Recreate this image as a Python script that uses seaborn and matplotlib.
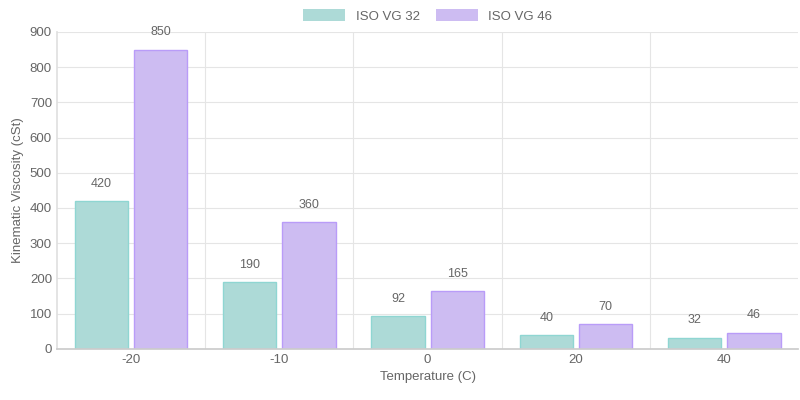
import matplotlib
matplotlib.use("Agg")
import matplotlib.pyplot as plt
import seaborn as sns
import pandas as pd

temps = ["-20", "-10", "0", "20", "40"]
vg32 = [420, 190, 92, 40, 32]
vg46 = [850, 360, 165, 70, 46]
series = ["ISO VG 32", "ISO VG 46"]

df = pd.DataFrame({
    "Temperature": temps * 2,
    "Viscosity": vg32 + vg46,
    "Grade": [series[0]] * 5 + [series[1]] * 5,
})

sns.set_theme(style="white")
plt.rcParams['font.family'] = ['Liberation Sans', 'DejaVu Sans']
fig, ax = plt.subplots(figsize=(8, 4), dpi=100)
fig.subplots_adjust(left=0.071, right=0.998, top=0.92, bottom=0.128)

pal = {series[0]: "#a6e1de", series[1]: "#cab3fb"}
edges = {series[0]: "#8fd6d2", series[1]: "#b99cf8"}
sns.barplot(data=df, x="Temperature", y="Viscosity", hue="Grade", palette=pal,
            width=0.8, gap=0.1, ax=ax, legend=True, linewidth=0)

for cont, s in zip(ax.containers, series):
    for bar in cont:
        bar.set_edgecolor(edges[s]); bar.set_linewidth(1)
    ax.bar_label(cont, padding=8, fontsize=9, color="#666666")

ax.set_ylim(0, 900)
ax.set_yticks(range(0, 901, 100))
ax.set_xlim(-0.5, 4.5)
ax.yaxis.grid(True, color="#e5e5e5", linewidth=0.8)
for xv in [0.5, 1.5, 2.5, 3.5]:
    ax.axvline(xv, color="#e5e5e5", linewidth=0.8, zorder=0)
ax.set_axisbelow(True)
for s in ["top", "right"]:
    ax.spines[s].set_visible(False)
ax.spines["left"].set_color("#e0e0e0")
ax.spines["bottom"].set_color("#cccccc")
ax.tick_params(colors="#666666", labelsize=9.5, length=0)
ax.set_xlabel("Temperature (C)", color="#666666", fontsize=9.5)
ax.set_ylabel("Kinematic Viscosity (cSt)", color="#666666", fontsize=9.5)

ax.legend(loc="lower center", bbox_to_anchor=(0.5, 1.0), ncol=2, frameon=False,
          fontsize=9.5, handlelength=3.2, handleheight=1.0, labelcolor="#666666",
          columnspacing=1.2, borderaxespad=0.3)
fig.savefig("out.png", dpi=100)
